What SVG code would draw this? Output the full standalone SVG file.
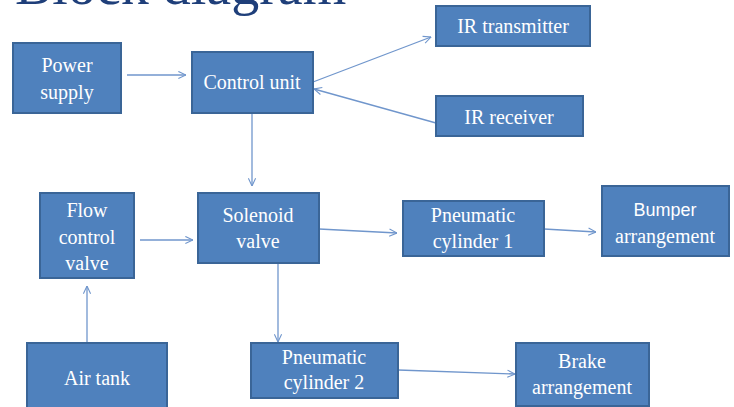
<svg xmlns="http://www.w3.org/2000/svg" width="734" height="407" viewBox="0 0 734 407">
<defs>
<style>
.box{fill:#4F81BD;stroke:#3A6597;stroke-width:2}
.t{fill:#fff;font-family:"Liberation Serif","DejaVu Serif",serif;font-size:20px;text-anchor:middle}
.s{font-family:"Liberation Sans","DejaVu Sans",sans-serif;font-size:18px}
.c{fill:none;stroke:#7096CC;stroke-width:1.3}
.title{fill:#1F3F7A;font-family:"Liberation Serif","DejaVu Serif",serif;font-size:56px}
</style>
<marker id="a" viewBox="0 0 10 10" refX="9.5" refY="5" markerWidth="9" markerHeight="9" markerUnits="userSpaceOnUse" orient="auto">
<path d="M1,1 L9.5,5 L1,9" fill="none" stroke="#7096CC" stroke-width="1.2"/>
</marker>
</defs>
<rect width="734" height="407" fill="#fff"/>
<text class="title" x="15" y="4">Block diagram</text>
<g id="connectors">
<line class="c" x1="127" y1="75" x2="186" y2="75" marker-end="url(#a)"/>
<line class="c" x1="313" y1="82" x2="431" y2="37" marker-end="url(#a)"/>
<line class="c" x1="436" y1="123" x2="314" y2="89" marker-end="url(#a)"/>
<line class="c" x1="252" y1="113" x2="252" y2="186" marker-end="url(#a)"/>
<line class="c" x1="140" y1="240" x2="193" y2="240" marker-end="url(#a)"/>
<line class="c" x1="319" y1="229" x2="397" y2="233" marker-end="url(#a)"/>
<line class="c" x1="544" y1="229" x2="596" y2="232" marker-end="url(#a)"/>
<line class="c" x1="278" y1="263" x2="278" y2="342" marker-end="url(#a)"/>
<line class="c" x1="87" y1="343" x2="87" y2="286" marker-end="url(#a)"/>
<line class="c" x1="398" y1="370" x2="515" y2="374" marker-end="url(#a)"/>
</g>
<g id="power-supply"><rect class="box" x="13" y="43" width="108" height="70"/><text class="t" x="67" y="72">Power</text><text class="t" x="67" y="99">supply</text></g>
<g id="control-unit"><rect class="box" x="192" y="52" width="121" height="61"/><text class="t" x="252" y="89">Control unit</text></g>
<g id="ir-transmitter"><rect class="box" x="436" y="6" width="154" height="40"/><text class="t" x="513" y="33">IR transmitter</text></g>
<g id="ir-receiver"><rect class="box" x="436" y="96" width="147" height="40"/><text class="t" x="509" y="124">IR receiver</text></g>
<g id="flow-control-valve"><rect class="box" x="40" y="193" width="94" height="85"/><text class="t" x="87" y="217">Flow</text><text class="t" x="87" y="244">control</text><text class="t" x="87" y="270">valve</text></g>
<g id="solenoid-valve"><rect class="box" x="198" y="193" width="121" height="70"/><text class="t" x="258" y="222">Solenoid</text><text class="t" x="258" y="248">valve</text></g>
<g id="pneumatic-cylinder-1"><rect class="box" x="403" y="201" width="141" height="55"/><text class="t" x="473" y="222">Pneumatic</text><text class="t" x="473" y="248">cylinder 1</text></g>
<g id="bumper-arrangement"><rect class="box" x="602" y="186" width="127" height="70"/><text class="t s" x="665" y="216">Bumper</text><text class="t" x="665" y="243">arrangement</text></g>
<g id="air-tank"><rect class="box" x="27" y="343" width="140" height="75"/><text class="t" x="97" y="385">Air tank</text></g>
<g id="pneumatic-cylinder-2"><rect class="box" x="251" y="343" width="147" height="55"/><text class="t" x="324" y="364">Pneumatic</text><text class="t" x="324" y="389">cylinder 2</text></g>
<g id="brake-arrangement"><rect class="box" x="516" y="343" width="133" height="63"/><text class="t" x="582" y="368">Brake</text><text class="t" x="582" y="394">arrangement</text></g>
</svg>
